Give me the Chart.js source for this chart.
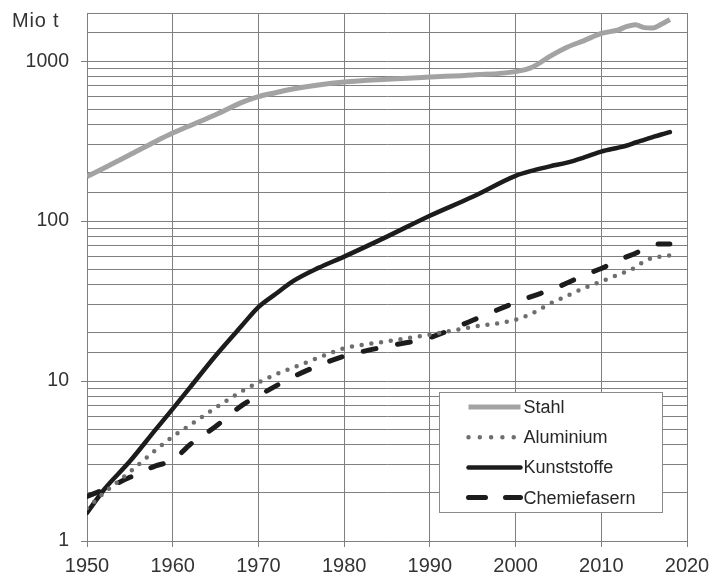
<!DOCTYPE html>
<html>
<head>
<meta charset="utf-8">
<script src="https://cdn.jsdelivr.net/npm/chart.js@4.4.1/dist/chart.umd.min.js"></script>
<style>
  html, body { margin: 0; padding: 0; background: #fff; }
  #wrap { position: relative; width: 711px; height: 577px; }
</style>
</head>
<body>
<div id="wrap"><canvas id="c" width="711" height="577"></canvas></div>
<script>
// Weltproduktion in Mio t (logarithmische Skala)
const years = [1950, 1952, 1955, 1958, 1960, 1962, 1965, 1968, 1970, 1972, 1974, 1977, 1980, 1985, 1990,
               1995, 2000, 2002, 2004, 2006, 2008, 2010, 2012, 2013, 2014, 2015, 2016, 2017, 2018];

const stahl        = [190, 215, 260, 315, 355, 395, 462, 550, 600, 635, 670, 710, 740, 770, 795,
                      820, 860, 920, 1070, 1220, 1345, 1490, 1570, 1650, 1690, 1620, 1610, 1700, 1820];
const aluminium    = [1.6, 2.0, 2.7, 3.7, 4.5, 5.3, 6.8, 8.6, 9.8, 11, 12.1, 14, 16, 17.7, 19.5,
                      21.8, 24.2, 26.6, 30.4, 34.1, 38.1, 42, 46.2, 48.5, 51.5, 56, 59, 60, 61];
const kunststoffe  = [1.5, 2.1, 3.15, 4.97, 6.7, 9.1, 14.4, 22, 29, 35, 42, 51, 60, 80, 108,
                      142, 192, 207, 220, 232, 250, 272, 288, 297, 310, 322, 335, 348, 360];
const chemiefasern = [1.9, 2.1, 2.5, 2.95, 3.2, 4.0, 5.2, 7.0, 8.1, 9.3, 10.6, 12.5, 14.3, 16.5, 18.7,
                      24, 31, 34, 37, 41, 46, 50.5, 57, 60, 63, 67, 71, 72, 72];

const yLabelValues = [1, 10, 100, 1000];
const xTickValues  = [1950, 1960, 1970, 1980, 1990, 2000, 2010, 2020];
const yUnit = 'Mio t';

const FONT = '"Liberation Sans", Arial, Helvetica, sans-serif';
const GRID = '#7f7f7f';

const pts = arr => years.map((yr, i) => ({ x: yr, y: arr[i] }));

// Legend inside the plot (bottom right) and unit label above the y axis
const decorations = {
  id: 'decorations',
  afterDatasetsDraw(chart) {
    const { ctx, chartArea: a } = chart;
    ctx.save();
    const bx = Math.round(a.right - 248) + 0.5, by = Math.round(a.bottom - 149) + 0.5;
    const bw = 223, bh = 120;
    ctx.fillStyle = '#fff';
    ctx.fillRect(bx, by, bw, bh);
    ctx.strokeStyle = '#8a8a8a';
    ctx.lineWidth = 1;
    ctx.strokeRect(bx, by, bw, bh);
    chart.data.datasets.forEach((ds, i) => {
      const yy = by + 14.5 + i * 30.2;
      ctx.beginPath();
      ctx.setLineDash(ds.legendDash || ds.borderDash || []);
      ctx.lineCap = ds.borderCapStyle || 'butt';
      ctx.strokeStyle = ds.borderColor;
      ctx.lineWidth = ds.borderWidth;
      ctx.moveTo(bx + 29, yy);
      ctx.lineTo(bx + (ds.legendEnd || 81), yy);
      ctx.stroke();
      ctx.setLineDash([]);
      ctx.fillStyle = '#262626';
      ctx.font = '18px ' + FONT;
      ctx.textBaseline = 'middle';
      ctx.textAlign = 'left';
      ctx.fillText(ds.label, bx + 84, yy + 1);
    });
    ctx.restore();
  },
  afterDraw(chart) {
    const { ctx } = chart;
    ctx.save();
    ctx.fillStyle = '#333';
    ctx.font = '20px ' + FONT;
    ctx.letterSpacing = '0.8px';
    ctx.textBaseline = 'alphabetic';
    ctx.textAlign = 'left';
    ctx.fillText(yUnit, 12, 27);
    ctx.restore();
  }
};

new Chart(document.getElementById('c'), {
  type: 'line',
  data: {
    datasets: [
      { label: 'Stahl', data: pts(stahl), borderColor: '#a3a3a3', borderWidth: 5,
        borderCapStyle: 'butt' },
      { label: 'Aluminium', data: pts(aluminium), borderColor: '#6e6e6e', borderWidth: 4.5,
        borderDash: [0, 9.8], borderCapStyle: 'round', legendDash: [0, 11.3], legendEnd: 77 },
      { label: 'Kunststoffe', data: pts(kunststoffe), borderColor: '#1c1c1c', borderWidth: 4.5,
        borderCapStyle: 'round' },
      { label: 'Chemiefasern', data: pts(chemiefasern), borderColor: '#1c1c1c', borderWidth: 5,
        borderDash: [13, 22], borderCapStyle: 'round', legendDash: [17, 20] }
    ]
  },
  options: {
    responsive: false,
    animation: false,
    devicePixelRatio: 1,
    layout: { padding: { top: 13, right: 24, left: 0, bottom: 0 } },
    elements: {
      point: { radius: 0, hoverRadius: 0 },
      line: { cubicInterpolationMode: 'monotone', fill: false }
    },
    plugins: { legend: { display: false }, tooltip: { enabled: false }, title: { display: false } },
    scales: {
      x: {
        type: 'linear', min: 1950, max: 2020,
        afterFit(s) { s.height = 36; s.paddingLeft = 0; s.paddingRight = 0; },
        afterBuildTicks(s) { s.ticks = xTickValues.map(v => ({ value: v })); },
        grid: { color: GRID, lineWidth: 1, tickLength: 6, tickColor: GRID },
        border: { color: GRID, width: 1 },
        ticks: { padding: 7, maxRotation: 0, autoSkip: false, color: '#333',
                 font: { family: FONT, size: 20 }, callback: v => String(v) }
      },
      y: {
        type: 'logarithmic', min: 1, max: 2000,
        afterFit(s) { s.width = 87; s.paddingTop = 0; s.paddingBottom = 0; },
        grid: { color: GRID, lineWidth: 1, tickLength: 6,
                tickColor: c => (c.tick && yLabelValues.includes(c.tick.value)) ? GRID : 'rgba(0,0,0,0)' },
        border: { color: GRID, width: 1 },
        ticks: { autoSkip: false, padding: 12, color: '#333',
                 font: { family: FONT, size: 19.5 },
                 callback: v => yLabelValues.includes(v) ? String(v) : '' }
      }
    }
  },
  plugins: [decorations]
});
</script>
</body>
</html>
